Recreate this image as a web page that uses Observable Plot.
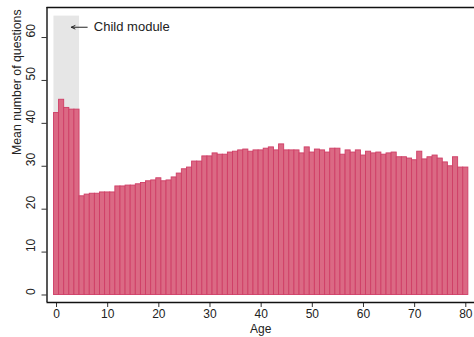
<!DOCTYPE html>
<html><head><meta charset="utf-8">
<script src="https://cdn.jsdelivr.net/npm/d3@7"></script>
<script src="https://cdn.jsdelivr.net/npm/@observablehq/plot@0.6"></script>
<style>body{margin:0;background:#fff;} svg{display:block}</style>
</head><body><div id="chart"></div>
<script>
const ages = d3.range(0, 81);
const meanQuestions = [
  42.4, 45.5, 43.6, 43.2, 43.2, 23.0, 23.4, 23.6, 23.6, 23.9,
  23.9, 23.9, 25.3, 25.3, 25.5, 25.5, 25.8, 26.1, 26.5, 26.7,
  27.2, 26.5, 26.7, 27.4, 28.3, 29.3, 29.7, 31.1, 31.1, 32.3,
  32.3, 33.0, 32.7, 32.7, 33.2, 33.4, 33.7, 33.9, 33.4, 33.7,
  33.7, 34.1, 34.4, 33.7, 35.1, 33.7, 33.7, 33.7, 33.0, 34.4,
  33.2, 33.9, 33.7, 33.2, 34.1, 34.1, 32.7, 33.7, 33.2, 33.7,
  32.5, 33.4, 33.0, 33.2, 32.7, 33.0, 33.2, 32.1, 32.1, 31.8,
  31.4, 33.4, 31.6, 32.1, 32.5, 31.8, 30.9, 30.0, 32.1, 29.7,
  29.7
];
const xTicks = [0, 10, 20, 30, 40, 50, 60, 70, 80];
const yTicks = [0, 10, 20, 30, 40, 50, 60];
const xDomain = [-1.86, 81.7];
const yDomain = [-1.75, 67.0];
const bandAges = [-0.5, 4.5];
const bandTop = 65;
const arrowFrom = [6.0, 62.4];
const arrowTo = [2.9, 62.4];
const noteText = "Child module";
const notePos = [7.3, 62.4];
const xTitle = "Age";
const yTitle = "Mean number of questions";

const bars = ages.map((a, i) => ({x1: a - 0.5, x2: a + 0.5, v: meanQuestions[i]}));
const band = [{x1: bandAges[0], x2: bandAges[1], y1: 0, y2: bandTop}];

const font = "Liberation Sans, Arial, Helvetica, sans-serif";

const chart = Plot.plot({
  width: 474, height: 337,
  marginLeft: 46.5, marginRight: 0, marginTop: 7, marginBottom: 35,
  style: {fontFamily: font, fontSize: "12px", background: "#fff", color: "#222"},
  x: {domain: xDomain, axis: null},
  y: {domain: yDomain, axis: null},
  marks: [
    Plot.rect(band, {x1: "x1", x2: "x2", y1: "y1", y2: "y2", fill: "#e6e6e6"}),
    Plot.rect(bars, {x1: "x1", x2: "x2", y1: 0, y2: "v", fill: "#db6984", stroke: "#cf3e66", strokeWidth: 0.9}),
    Plot.axisX({ticks: xTicks, tickSize: 5, tickPadding: 1.5, stroke: "#333", label: null, fontSize: 12, anchor: "bottom"}),
    Plot.axisY({ticks: yTicks, tickSize: 5, tickFormat: () => "", stroke: "#333", label: null, anchor: "left"}),
    Plot.text(yTicks, {y: d => d, text: d => String(d), frameAnchor: "left", rotate: -90, dx: -16, fontSize: 12, fill: "#222"}),
    Plot.ruleX([xDomain[0]], {stroke: "#111", strokeWidth: 1.4}),
    Plot.ruleY([yDomain[0], yDomain[1]], {stroke: "#111", strokeWidth: 1.4}),
    Plot.text([yTitle], {frameAnchor: "left", rotate: -90, dx: -29.5, fontSize: 12.3, fill: "#222"}),
    Plot.text([xTitle], {frameAnchor: "bottom", lineAnchor: "middle", dy: 26.5, fontSize: 12, fill: "#222"}),
    Plot.arrow([{x1: arrowFrom[0], y1: arrowFrom[1], x2: arrowTo[0], y2: arrowTo[1]}], {x1: "x1", y1: "y1", x2: "x2", y2: "y2", stroke: "#222", strokeWidth: 1, headLength: 6, headAngle: 50}),
    Plot.text([noteText], {x: () => notePos[0], y: () => notePos[1], textAnchor: "start", fontSize: 13, fill: "#222"})
  ]
});
document.getElementById("chart").appendChild(chart);
</script>
</body></html>
